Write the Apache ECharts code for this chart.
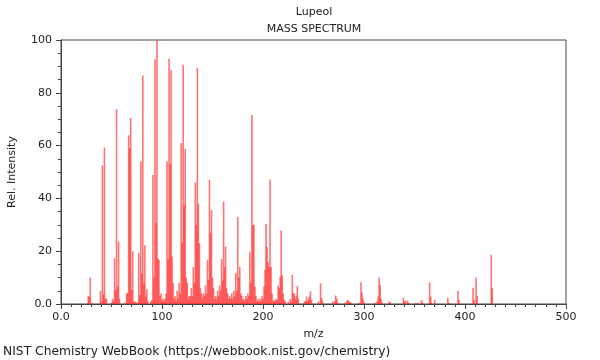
<!DOCTYPE html>
<html>
<head>
<meta charset="utf-8">
<script src="https://cdn.jsdelivr.net/npm/echarts@6/dist/echarts.min.js"></script>
<style>html,body{margin:0;padding:0;background:#fff}#c{width:600px;height:360px}</style>
</head>
<body>
<div id="c"></div>
<script>
const chartTitle = 'Lupeol';
const chartSubtitle = 'MASS SPECTRUM';
const xAxisName = 'm/z';
const yAxisName = 'Rel. Intensity';
const footer = 'NIST Chemistry WebBook (https://webbook.nist.gov/chemistry)';
const mz = [27,28,29,31,39,40,41,42,43,44,45,50,51,52,53,54,55,56,57,58,63,65,66,67,68,69,70,71,72,73,74,75,76,77,78,79,80,81,82,83,84,85,86,89,90,91,92,93,94,95,96,97,
98,99,100,101,102,103,104,105,106,107,108,109,110,111,112,113,114,115,116,117,118,119,120,121,122,123,124,125,126,127,128,129,130,131,132,133,134,135,136,137,138,139,140,141,142,143,144,145,146,147,148,149,150,151,152,153,154,155,156,157,158,159,160,161,162,163,164,165,166,167,168,169,170,171,172,173,174,175,176,177,178,179,180,181,182,183,184,185,186,187,188,189,190,191,192,193,194,195,196,197,198,199,200,201,202,203,204,205,206,207,208,209,210,211,212,213,214,215,216,217,218,219,220,221,222,225,227,228,229,230,231,232,233,234,235,241,242,243,244,245,246,247,248,255,257,258,259,269,271,272,273,274,281,283,284,285,286,287,295,297,298,299,300,311,313,314,315,316,317,318,325,326,339,340,341,343,344,351,353,357,358,365,366,367,370,383,384,393,394,408,409,411,412,426,427];
const intensity = [3,2.8,10,0.5,5,1,52.5,3.7,59.3,2,2,0.5,2,1,17.4,5.3,73.8,6.6,23.6,2,0.5,4,4.2,63.9,59,70.5,5.3,20,1,1,0.5,0.5,0.5,19.4,3.4,54,11.6,86.6,7.8,22.3,2.8,5.6,1,1,1.5,48.9,10,92.7,30.8,100,17.3,16.7,
3,4,1.5,2,1,2,4,54,17,93,53,88.6,18,8,2,3,1,5,2,8,4,61,23,90.6,37.5,58.7,10,8,2,3,3,6,3,14,8,46,30,89.5,38,23,6,4,2,4,3,7,4,16.7,9,47,27,35.6,10,6,2,3,2,5,3,7,5,17,9,38.8,14,21.7,6,4,2,3,2,4,2,5,3,11.7,5,33,10,14,4,3,1.5,2,1,3,2,4,3,19.8,8,71.6,30,30,6.6,3,1,2,1,2,1,3,2,6.6,13,30.3,21.7,16,14,47.2,14,4,1,1.5,1,2,1.5,7,6,10.3,27.8,11,4,1.5,1,1,2,1,11,4,4,2,3,6.8,2,1,1,2.8,1,2,2.8,4.8,1.5,1,7.8,2.4,1,1,1,3.2,2,0.5,0.5,1,1.5,1,0.8,0.5,0.5,8.2,4.4,2,0.8,0.5,1,2.8,10,7.2,2,0.5,1,0.6,2.4,1,1.2,1.3,0.5,0.5,0.5,1.5,0.6,8.2,2.8,0.5,1.6,2.4,0.5,4.9,1.5,6.2,1.5,10,3,18.6,6];
const xTicks = [0,100,200,300,400,500];
const yTicks = [0,20,40,60,80,100];

const font = 'DejaVu Sans';
const chart = echarts.init(document.getElementById('c'), null, {renderer:'canvas'});
const data = mz.map((m,i)=>[m, intensity[i]]);
const fmt = v => v === 0 ? '0.0' : String(v);
chart.setOption({
  animation:false,
  backgroundColor:'#fff',
  grid:{left:61, right:34, top:40, bottom:56, containLabel:false, outerBoundsMode:'none', show:true, borderColor:'#444', borderWidth:1, backgroundColor:'transparent'},
  xAxis:{type:'value', min:xTicks[0], max:xTicks[xTicks.length-1], interval:100,
    axisLine:{lineStyle:{color:'#444'}}, splitLine:{show:false},
    axisTick:{length:5, lineStyle:{color:'#444'}},
    minorTick:{show:true, splitNumber:10, length:3, lineStyle:{color:'#444'}},
    axisLabel:{formatter:fmt, color:'#222', fontFamily:font, fontSize:11, margin:8},
    name:xAxisName, nameLocation:'middle', nameGap:25, nameTextStyle:{color:'#222', fontFamily:font, fontSize:11}},
  yAxis:{type:'value', min:yTicks[0], max:yTicks[yTicks.length-1], interval:20,
    axisLine:{show:true, lineStyle:{color:'#444'}}, splitLine:{show:false},
    axisTick:{show:true, length:5, lineStyle:{color:'#444'}},
    minorTick:{show:true, splitNumber:4, length:3, lineStyle:{color:'#444'}},
    axisLabel:{formatter:fmt, color:'#222', fontFamily:font, fontSize:11, margin:9},
    name:yAxisName, nameLocation:'middle', nameGap:43, nameTextStyle:{color:'#222', fontFamily:font, fontSize:11}},
  series:[{type:'bar', data:data, barWidth:1.6, itemStyle:{color:'rgba(255,40,40,0.65)'}, silent:true}],
  graphic:[
    {type:'text', x:314, y:7, style:{text:chartTitle, fill:'#222', font:'11px "DejaVu Sans"', textAlign:'center'}},
    {type:'text', x:314, y:24, style:{text:chartSubtitle, fill:'#222', font:'11px "DejaVu Sans"', textAlign:'center'}},
    {type:'text', x:3, y:346, style:{text:footer, fill:'#222', font:'12.3px "DejaVu Sans"', textAlign:'left'}}
  ]
});
</script>
</body>
</html>
